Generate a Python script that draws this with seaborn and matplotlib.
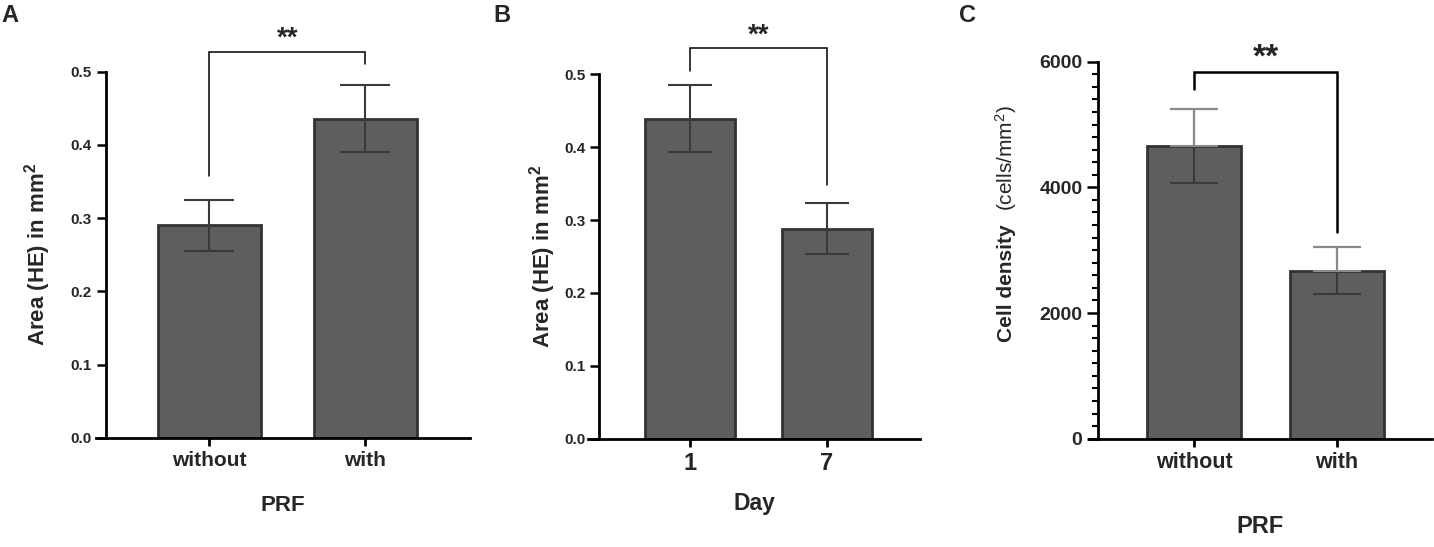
import numpy as np
import matplotlib
matplotlib.use('Agg')
import matplotlib.pyplot as plt
import seaborn as sns
from matplotlib.ticker import MultipleLocator, FormatStrFormatter

# panel A - area vs PRF
prf_groups = ['without', 'with']
area_prf_mean = [0.290, 0.436]
area_prf_err = [0.035, 0.046]

# panel B - area vs day
day_groups = ['1', '7']
area_day_mean = [0.439, 0.288]
area_day_err = [0.046, 0.035]

# panel C - cell density vs PRF
density_mean = [4655, 2675]
density_err = [590, 375]

sns.set_style('ticks')
plt.rcParams['font.family'] = ['Liberation Sans', 'DejaVu Sans']
plt.rcParams['mathtext.default'] = 'regular'

BAR = '#5e5e5e'
EDGE = '#333333'

fig = plt.figure(figsize=(14.34, 5.47), dpi=100)
axA = fig.add_axes([0.0669, 0.1998, 0.2608, 0.6691])
axB = fig.add_axes([0.4103, 0.1980, 0.2313, 0.6662])
axC = fig.add_axes([0.7594, 0.1980, 0.2390, 0.6892])


def draw_panel(ax, groups, means, errs, err_color, capsize):
    sns.barplot(x=groups, y=means, order=groups, color=BAR, saturation=1,
                edgecolor=EDGE, linewidth=2, width=0.66, errorbar=None, ax=ax)
    xs = np.arange(len(groups))
    ax.errorbar(xs, means, yerr=errs, fmt='none', ecolor=err_color,
                elinewidth=1.5, capsize=capsize, capthick=1.5, zorder=4)
    for s in ['top', 'right']:
        ax.spines[s].set_visible(False)
    for s in ['left', 'bottom']:
        ax.spines[s].set_linewidth(2)
        ax.spines[s].set_color('black')
    ax.tick_params(axis='y', length=6.5, width=1.8, color='black')
    ax.tick_params(axis='x', length=6, width=2, color='black')


def style_ticks(ax, ysize, xsize):
    for lab in ax.get_yticklabels():
        lab.set_fontsize(ysize)
        lab.set_fontweight('bold')
    for lab in ax.get_xticklabels():
        lab.set_fontsize(xsize)
        lab.set_fontweight('bold')


def bracket(ax, x0, x1, y_left, y_top, y_right, star_y, lw, size):
    ax.plot([x0, x0, x1, x1], [y_left, y_top, y_top, y_right],
            color='black', lw=lw, clip_on=False, solid_joinstyle='miter')
    ax.text((x0 + x1) / 2, star_y, '**', ha='center', va='center',
            fontsize=size, fontweight='bold', clip_on=False)


# A
draw_panel(axA, prf_groups, area_prf_mean, area_prf_err, '#3a3a3a', 18)
axA.set_xlim(-0.726, 1.67)
axA.set_ylim(0, 0.5)
axA.spines['left'].set_position(('data', -0.663))
axA.yaxis.set_major_locator(MultipleLocator(0.1))
axA.yaxis.set_major_formatter(FormatStrFormatter('%.1f'))
axA.set_xlabel('PRF', fontsize=16, fontweight='bold', labelpad=18)
axA.set_ylabel('Area (HE) in mm$^2$', fontsize=16, fontweight='bold')
axA.yaxis.set_label_coords(-0.115, 0.5)
style_ticks(axA, 11, 15)
bracket(axA, 0, 1, 0.357, 0.527, 0.510, 0.545, 1.1, 20)

# B
draw_panel(axB, day_groups, area_day_mean, area_day_err, '#3a3a3a', 16)
axB.set_xlim(-0.742, 1.679)
axB.set_ylim(0, 0.5)
axB.spines['left'].set_position(('data', -0.662))
axB.yaxis.set_major_locator(MultipleLocator(0.1))
axB.yaxis.set_major_formatter(FormatStrFormatter('%.1f'))
axB.set_xlabel('Day', fontsize=16.5, fontweight='bold', labelpad=12)
axB.set_ylabel('Area (HE) in mm$^2$', fontsize=16, fontweight='bold')
axB.yaxis.set_label_coords(-0.092, 0.5)
style_ticks(axB, 11, 17)
bracket(axB, 0, 1, 0.505, 0.5365, 0.348, 0.553, 1.1, 20)

# C
draw_panel(axC, prf_groups, density_mean, density_err, '#3a3a3a', 17)
# upper half of the error bars is lighter in the original
axC.errorbar(np.arange(2), density_mean, yerr=[[0, 0], density_err], fmt='none',
             ecolor='#8a8a8a', elinewidth=1.5, capsize=17, capthick=1.5, zorder=5)
axC.set_xlim(-0.74, 1.667)
axC.set_ylim(0, 6000)
axC.spines['left'].set_position(('data', -0.674))
axC.yaxis.set_major_locator(MultipleLocator(2000))
axC.yaxis.set_minor_locator(MultipleLocator(200))
axC.tick_params(axis='y', which='major', length=8)
axC.tick_params(axis='y', which='minor', length=4, width=1.5, color='black')
axC.set_xlabel('PRF', fontsize=17, fontweight='bold', labelpad=30)
axC.set_ylabel('Cell density', fontsize=15, fontweight='bold')
axC.yaxis.set_label_coords(-0.213, 0.413)
axC.text(-0.205, 0.745, '(cells/mm$^2$)', transform=axC.transAxes, rotation=90,
         rotation_mode='anchor', ha='center', va='bottom', fontsize=15)
style_ticks(axC, 14, 15.5)
bracket(axC, 0, 1, 5560, 5831, 3293, 6060, 1.8, 24)

# panel letters
for x, letter in [(0.001, 'A'), (0.344, 'B'), (0.669, 'C')]:
    fig.text(x, 0.993, letter, fontsize=17, fontweight='bold', va='top', ha='left')

fig.savefig('out.png', dpi=100)
